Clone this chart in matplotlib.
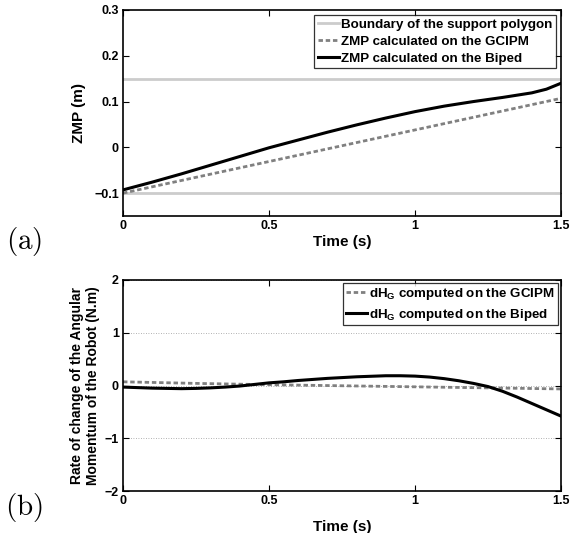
import matplotlib
matplotlib.use("Agg")
import matplotlib.pyplot as plt

# ---- data ----
t_zmp = [0.0, 0.1, 0.2, 0.3, 0.4, 0.5, 0.6, 0.7, 0.8, 0.9, 1.0, 1.1, 1.2, 1.3, 1.4, 1.45, 1.5]
zmp_biped = [-0.093, -0.076, -0.058, -0.039, -0.020, -0.001, 0.016, 0.033, 0.049, 0.064,
             0.078, 0.090, 0.100, 0.109, 0.119, 0.127, 0.140]
t_gcipm = [0.0, 1.5]
zmp_gcipm = [-0.100, 0.107]
boundary_upper = 0.15
boundary_lower = -0.10

t_dh = [0.0, 0.05, 0.1, 0.15, 0.2, 0.25, 0.3, 0.35, 0.4, 0.45, 0.5, 0.55, 0.6, 0.65, 0.7,
        0.75, 0.8, 0.85, 0.9, 0.95, 1.0, 1.05, 1.1, 1.15, 1.2, 1.25, 1.3, 1.35, 1.4, 1.45, 1.5]
dh_biped = [-0.03, -0.04, -0.05, -0.055, -0.06, -0.055, -0.045, -0.03, -0.01, 0.02, 0.05,
            0.07, 0.095, 0.115, 0.135, 0.15, 0.165, 0.175, 0.185, 0.185, 0.178, 0.16, 0.13,
            0.09, 0.04, -0.02, -0.11, -0.22, -0.34, -0.46, -0.58]
t_dh_gcipm = [0.0, 0.25, 0.5, 0.75, 1.0, 1.25, 1.5]
dh_gcipm = [0.07, 0.04, 0.015, -0.005, -0.025, -0.045, -0.065]

x_ticks = [0, 0.5, 1, 1.5]
x_ticklabels = ["0", "0.5", "1", "1.5"]
zmp_yticks = [-0.1, 0, 0.1, 0.2, 0.3]
zmp_yticklabels = ["\u22120.1", "0", "0.1", "0.2", "0.3"]
dh_yticks = [-2, -1, 0, 1, 2]
dh_yticklabels = ["\u22122", "\u22121", "0", "1", "2"]

# ---- style ----
plt.rcParams["font.family"] = ["Liberation Sans", "DejaVu Sans"]
plt.rcParams["font.weight"] = "bold"
plt.rcParams["mathtext.fontset"] = "custom"
plt.rcParams["mathtext.rm"] = "Liberation Sans:bold"
plt.rcParams["mathtext.bf"] = "Liberation Sans:bold"
plt.rcParams["mathtext.default"] = "bf"

W, H = 572, 533
fig = plt.figure(figsize=(W / 100, H / 100), dpi=100)

LIGHT = (0.80, 0.80, 0.80)
MID = (0.50, 0.50, 0.50)
DASH = (0, (1.6, 1.0))
TICK_FS = 9
LABEL_FS = 11
LEG_FS = 9.6


def px_axes(left, top, right, bottom):
    return fig.add_axes([left / W, 1 - bottom / H, (right - left) / W, (bottom - top) / H])


def style_axes(ax):
    ax.tick_params(direction="in", length=4, width=0.8, top=True, right=True,
                   labelsize=TICK_FS, pad=3)
    for lab in ax.get_xticklabels() + ax.get_yticklabels():
        lab.set_fontweight("bold")
    for s in ax.spines.values():
        s.set_linewidth(1.2)


def style_legend(leg):
    leg.get_frame().set_linewidth(0.9)
    for txt in leg.get_texts():
        txt.set_fontweight("bold")


# ---- (a) ZMP ----
ax1 = px_axes(123, 10, 561, 216)
ax1.axhline(boundary_upper, color=LIGHT, lw=2.0, label="Boundary of the support polygon")
ax1.axhline(boundary_lower, color=LIGHT, lw=2.0)
ax1.plot(t_gcipm, zmp_gcipm, color=MID, lw=2.0, linestyle=DASH,
         label="ZMP calculated on the GCIPM")
ax1.plot(t_zmp, zmp_biped, color="black", lw=2.2, label="ZMP calculated on the Biped")
ax1.set_xlim(0, 1.5)
ax1.set_ylim(-0.15, 0.3)
ax1.set_xticks(x_ticks)
ax1.set_xticklabels(x_ticklabels)
ax1.set_yticks(zmp_yticks)
ax1.set_yticklabels(zmp_yticklabels)
style_axes(ax1)
ax1.set_xlabel("Time (s)", fontsize=LABEL_FS, fontweight="bold", labelpad=2)
ax1.set_ylabel("ZMP (m)", fontsize=LABEL_FS, fontweight="bold", labelpad=6)
leg1 = ax1.legend(loc="upper right", fontsize=LEG_FS, frameon=True, fancybox=False,
                  edgecolor="black", handlelength=1.6, handletextpad=0.15,
                  borderpad=0.25, labelspacing=0.35, borderaxespad=0.4)
style_legend(leg1)

# ---- (b) rate of change of angular momentum ----
ax2 = px_axes(123, 280, 561, 491)
ax2.plot(t_dh_gcipm, dh_gcipm, color=MID, lw=2.0, linestyle=DASH,
         label=r"dH$_\mathrm{G}$ computed on the GCIPM")
ax2.plot(t_dh, dh_biped, color="black", lw=2.2,
         label=r"dH$_\mathrm{G}$ computed on the Biped")
ax2.set_xlim(0, 1.5)
ax2.set_ylim(-2, 2)
ax2.set_xticks(x_ticks)
ax2.set_xticklabels(x_ticklabels)
ax2.set_yticks(dh_yticks)
ax2.set_yticklabels(dh_yticklabels)
ax2.yaxis.grid(True, linestyle=(0, (1, 2)), color=(0.6, 0.6, 0.6), lw=0.6)
style_axes(ax2)
ax2.set_xlabel("Time (s)", fontsize=LABEL_FS, fontweight="bold", labelpad=9)
ax2.set_ylabel("Rate of change of the Angular\nMomentum of the Robot (N.m)",
               fontsize=10.0, fontweight="bold", labelpad=3, linespacing=1.2)
leg2 = ax2.legend(loc="upper right", fontsize=LEG_FS, frameon=True, fancybox=False,
                  edgecolor="black", handlelength=1.6, handletextpad=0.15,
                  borderpad=0.2, labelspacing=0.35, borderaxespad=0.25)
style_legend(leg2)

# panel tags
fig.text(24 / W, 1 - 242 / H, r"$(\mathrm{a})$", fontsize=21, ha="center", va="center",
         math_fontfamily="cm")
fig.text(24 / W, 1 - 508 / H, r"$(\mathrm{b})$", fontsize=21, ha="center", va="center",
         math_fontfamily="cm")

fig.savefig("out.png", dpi=100, facecolor="white")
